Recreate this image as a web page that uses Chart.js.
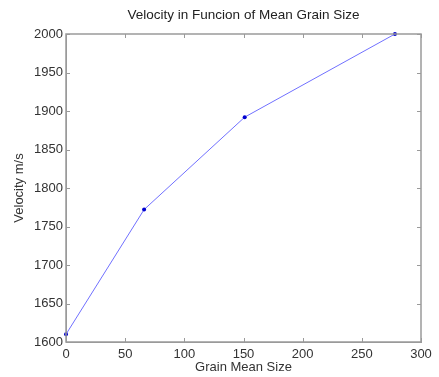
<!DOCTYPE html>
<html>
<head>
<meta charset="utf-8">
<script src="https://cdn.jsdelivr.net/npm/chart.js@4"></script>
<style>
  html, body { margin: 0; padding: 0; background: #fff; }
  #wrap { width: 439px; height: 377px; }
</style>
</head>
<body>
<div id="wrap"><canvas id="velChart" width="439" height="377"></canvas></div>
<script>
// values
const grainSize = [0, 66, 151, 278];
const velocity = [1610, 1772, 1892, 2000];
const xTicks = [0, 50, 100, 150, 200, 250, 300];
const yTicks = [1600, 1650, 1700, 1750, 1800, 1850, 1900, 1950, 2000];

const axisGrey = '#9a9a9a';
const fontFam = 'Liberation Sans, Arial';

// matlab style box with ticks pointing inwards on all four sides
const boxTicks = {
  id: 'boxTicks',
  afterDatasetsDraw(chart) {
    const { ctx, chartArea: a, scales } = chart;
    ctx.save();
    ctx.strokeStyle = axisGrey;
    ctx.lineWidth = 1;
    ctx.beginPath();
    xTicks.forEach(v => {
      const px = Math.round(scales.x.getPixelForValue(v)) + 0.5;
      ctx.moveTo(px, a.bottom); ctx.lineTo(px, a.bottom - 4);
      ctx.moveTo(px, a.top); ctx.lineTo(px, a.top + 4);
    });
    yTicks.forEach(v => {
      const py = Math.round(scales.y.getPixelForValue(v)) + 0.5;
      ctx.moveTo(a.left, py); ctx.lineTo(a.left + 4, py);
      ctx.moveTo(a.right, py); ctx.lineTo(a.right - 4, py);
    });
    ctx.stroke();
    ctx.lineWidth = 1.5;
    ctx.strokeRect(a.left, a.top, a.right - a.left, a.bottom - a.top);
    ctx.restore();
  }
};

const ctx = document.getElementById('velChart').getContext('2d');
new Chart(ctx, {
  type: 'line',
  data: {
    datasets: [{
      data: grainSize.map((g, i) => ({ x: g, y: velocity[i] })),
      borderColor: '#7070ff',
      borderWidth: 1,
      pointRadius: 2,
      pointBackgroundColor: '#0000d0',
      pointBorderWidth: 0,
      tension: 0,
      clip: false
    }]
  },
  options: {
    responsive: false,
    animation: false,
    layout: { padding: { left: 0, right: 18, top: 0, bottom: 0 } },
    plugins: {
      legend: { display: false },
      tooltip: { enabled: false }
    },
    scales: {
      x: {
        type: 'linear',
        min: 0,
        max: 300,
        afterBuildTicks: s => { s.ticks = xTicks.map(v => ({ value: v })); },
        afterFit: s => { s.height = 35; },
        grid: { drawOnChartArea: false, drawTicks: false },
        border: { color: axisGrey },
        ticks: {
          padding: 5,
          color: '#333',
          maxRotation: 0,
          callback: v => String(v),
          font: { family: fontFam, size: 13 }
        },
        title: {
          display: true,
          text: 'Grain Mean Size',
          color: '#333',
          font: { family: fontFam, size: 13 },
          padding: { top: 0, bottom: 2 }
        }
      },
      // top axis only carries the plot title, centred over the plot box
      xTop: {
        type: 'linear',
        position: 'top',
        min: 0,
        max: 300,
        afterFit: s => { s.height = 34; },
        grid: { display: false },
        border: { display: false },
        ticks: { display: false },
        title: {
          display: true,
          text: 'Velocity in Funcion of Mean Grain Size',
          color: '#222',
          font: { family: fontFam, size: 13.5 },
          padding: { top: 7, bottom: 0 }
        }
      },
      y: {
        type: 'linear',
        min: 1600,
        max: 2000,
        afterBuildTicks: s => { s.ticks = yTicks.map(v => ({ value: v })); },
        afterFit: s => { s.width = 66; },
        grid: { drawOnChartArea: false, drawTicks: false },
        border: { color: axisGrey },
        ticks: {
          padding: 3,
          color: '#333',
          callback: v => String(v),
          font: { family: fontFam, size: 13 }
        },
        title: {
          display: true,
          text: 'Velocity m/s',
          color: '#333',
          font: { family: fontFam, size: 13 },
          padding: { top: 12, bottom: 0 }
        }
      }
    }
  },
  plugins: [boxTicks]
});
</script>
</body>
</html>
